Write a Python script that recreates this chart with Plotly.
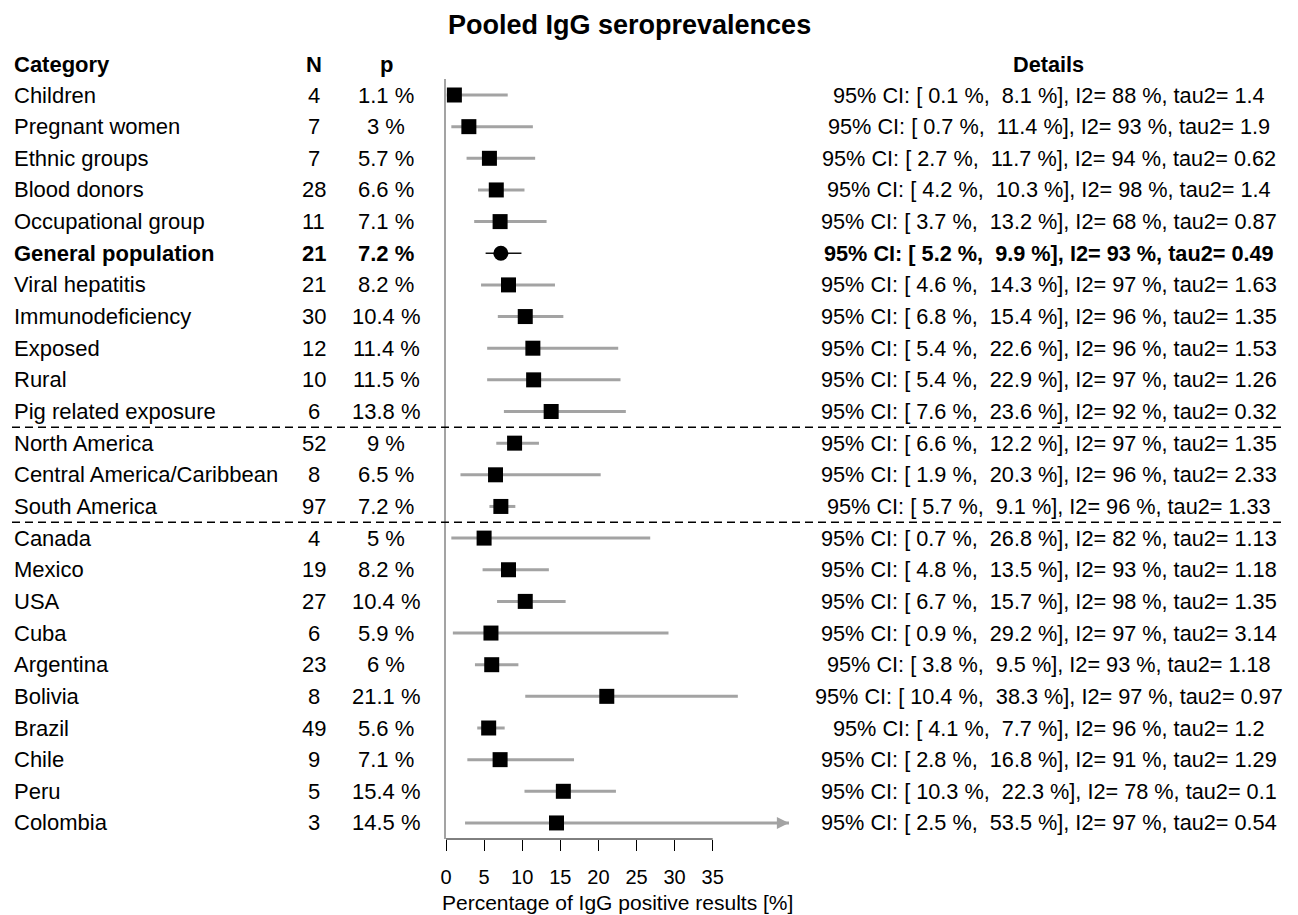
import plotly.graph_objects as go

# ---------------- data ----------------
categories = ["Children", "Pregnant women", "Ethnic groups", "Blood donors", "Occupational group",
              "General population", "Viral hepatitis", "Immunodeficiency", "Exposed", "Rural",
              "Pig related exposure", "North America", "Central America/Caribbean", "South America",
              "Canada", "Mexico", "USA", "Cuba", "Argentina", "Bolivia", "Brazil", "Chile", "Peru", "Colombia"]
n_studies = [4, 7, 7, 28, 11, 21, 21, 30, 12, 10, 6, 52, 8, 97, 4, 19, 27, 6, 23, 8, 49, 9, 5, 3]
pooled_p = [1.1, 3, 5.7, 6.6, 7.1, 7.2, 8.2, 10.4, 11.4, 11.5, 13.8, 9, 6.5, 7.2,
            5, 8.2, 10.4, 5.9, 6, 21.1, 5.6, 7.1, 15.4, 14.5]
ci_low = [0.1, 0.7, 2.7, 4.2, 3.7, 5.2, 4.6, 6.8, 5.4, 5.4, 7.6, 6.6, 1.9, 5.7,
          0.7, 4.8, 6.7, 0.9, 3.8, 10.4, 4.1, 2.8, 10.3, 2.5]
ci_high = [8.1, 11.4, 11.7, 10.3, 13.2, 9.9, 14.3, 15.4, 22.6, 22.9, 23.6, 12.2, 20.3, 9.1,
           26.8, 13.5, 15.7, 29.2, 9.5, 38.3, 7.7, 16.8, 22.3, 53.5]
i2 = [88, 93, 94, 98, 68, 93, 97, 96, 96, 97, 92, 97, 96, 96, 82, 93, 98, 97, 93, 97, 96, 91, 78, 97]
tau2 = [1.4, 1.9, 0.62, 1.4, 0.87, 0.49, 1.63, 1.35, 1.53, 1.26, 0.32, 1.35, 2.33, 1.33,
        1.13, 1.18, 1.35, 3.14, 1.18, 0.97, 1.2, 1.29, 0.1, 0.54]
group_sizes = [11, 3, 10]
highlight = "General population"
tick_values = [0, 5, 10, 15, 20, 25, 30, 35]
x_max = 45
headers = ["Category", "N", "p", "Details"]
axis_title = "Percentage of IgG positive results [%]"
chart_title = "Pooled IgG seroprevalences"

# ---------------- layout constants ----------------
OFF = 8                      # page body margin compensation
W, H = 1298 - OFF, 915 - OFF
FONT = "Liberation Sans, Arial, sans-serif"
FS = 22
FS_DET = 21.7
GRAY = "#a3a3a3"


def X(px):                   # page pixel -> figure pixel
    return px - OFF


px_x0 = X(446)               # pixel of x=0
px_per_unit = 7.62
plot_top, plot_bottom = X(79), X(839)
row0_px, row_step = X(95), 31.65
plot_h = plot_bottom - plot_top

rows = list(range(len(categories)))
y_top = -(row0_px - plot_top) / row_step
y_bot = (plot_bottom - row0_px) / row_step


def fx(px):                  # page pixel x -> paper fraction
    return X(px) / W


def fy(py):                  # page pixel y -> paper fraction (relative to plot area)
    return (plot_bottom - X(py)) / plot_h


fig = go.Figure()

# CI lines
xs, ys, xh, yh = [], [], [], []
for i, c in enumerate(categories):
    if c == highlight:
        xh += [ci_low[i], ci_high[i], None]
        yh += [i, i, None]
    else:
        xs += [ci_low[i], ci_high[i], None]
        ys += [i, i, None]
fig.add_trace(go.Scatter(x=xs, y=ys, mode="lines", line=dict(color=GRAY, width=3),
                         hoverinfo="skip", showlegend=False))
fig.add_trace(go.Scatter(x=xh, y=yh, mode="lines", line=dict(color="#111111", width=1.5),
                         hoverinfo="skip", showlegend=False))

# point estimates
sq_x = [pooled_p[i] for i, c in enumerate(categories) if c != highlight]
sq_y = [i for i, c in enumerate(categories) if c != highlight]
hi_x = [pooled_p[i] for i, c in enumerate(categories) if c == highlight]
hi_y = [i for i, c in enumerate(categories) if c == highlight]
fig.add_trace(go.Scatter(x=sq_x, y=sq_y, mode="markers",
                         marker=dict(symbol="square", size=15, color="black", line=dict(width=0)),
                         showlegend=False))
fig.add_trace(go.Scatter(x=hi_x, y=hi_y, mode="markers",
                         marker=dict(symbol="circle", size=15, color="black", line=dict(width=0)),
                         showlegend=False))

annotations = []
# arrows for truncated CIs
for i in rows:
    if ci_high[i] > x_max:
        annotations.append(dict(x=x_max, y=i, xref="x", yref="y", ax=x_max - 2, ay=i,
                                axref="x", ayref="y", text="", showarrow=True,
                                arrowhead=2, arrowsize=1.2, arrowwidth=2, arrowcolor=GRAY))

col_x = [(fx(12), "left"), (fx(313.5), "center"), (fx(386), "center"), (fx(1048.5), "center")]

# header row (paper coords so that it is not hidden outside the y range)
hdr_py = 95 - 0.96 * row_step
for (x, anc), h in zip(col_x, headers):
    annotations.append(dict(x=x, y=fy(hdr_py), xref="paper", yref="paper", xanchor=anc,
                            yanchor="middle", text=f"<b>{h}</b>", showarrow=False,
                            font=dict(family=FONT, size=FS_DET if h == "Details" else FS,
                                      color="black")))

NB = "\u00a0"
for i, c in enumerate(categories):
    det = (f"95% CI: [{NB}{ci_low[i]:g}{NB}%,{NB}{NB}{ci_high[i]:g}{NB}%], "
           f"I2={NB}{i2[i]}{NB}%, tau2={NB}{tau2[i]:g}")
    texts = [c, str(n_studies[i]), f"{pooled_p[i]:g}{NB}%", det]
    for k, ((x, anc), t) in enumerate(zip(col_x, texts)):
        if c == highlight:
            t = f"<b>{t}</b>"
        annotations.append(dict(x=x, y=i, xref="paper", yref="y", xanchor=anc, yanchor="middle",
                                text=t, showarrow=False,
                                font=dict(family=FONT, size=FS_DET if k == 3 else FS,
                                          color="black")))

# chart title, top-anchored at the figure top so it is not cut
annotations.append(dict(x=fx(629), y=fy(OFF), xref="paper", yref="paper", xanchor="center",
                        yanchor="top", text=f"<b>{chart_title}</b>", showarrow=False,
                        font=dict(family=FONT, size=27, color="black")))
# axis title, centred on the x-axis domain, bottom-anchored at the figure bottom
dom = [fx(446), (px_x0 + x_max * px_per_unit) / W]
annotations.append(dict(x=(dom[0] + dom[1]) / 2, y=fy(915), xref="paper", yref="paper",
                        xanchor="center", yanchor="bottom", text=axis_title, showarrow=False,
                        borderpad=0,
                        font=dict(family=FONT, size=21, color="black")))

# separators
shapes = []
acc = 0
for g in group_sizes[:-1]:
    acc += g
    shapes.append(dict(type="line", xref="paper", yref="y", x0=fx(12), x1=fx(1286),
                       y0=acc - 0.5, y1=acc - 0.5,
                       line=dict(color="black", width=1.5, dash="8px,5px")))
# x axis line over the tick span
shapes.append(dict(type="line", xref="x", yref="paper", x0=tick_values[0], x1=tick_values[-1],
                   y0=0, y1=0, line=dict(color="black", width=1)))

fig.update_layout(
    width=W, height=H,
    margin=dict(l=0, r=0, t=plot_top, b=H - plot_bottom),
    plot_bgcolor="white", paper_bgcolor="white",
    annotations=annotations, shapes=shapes,
    showlegend=False,
    font=dict(family=FONT, size=20, color="black"),
)
fig.update_xaxes(
    domain=dom,
    range=[0, x_max], tickvals=tick_values, ticktext=[str(v) for v in tick_values],
    ticks="outside", ticklen=11, tickwidth=1, tickcolor="black",
    showline=False, showgrid=False, zeroline=False,
    tickfont=dict(family=FONT, size=20, color="black"),
    ticklabelstandoff=9,
    automargin=False,
)
fig.update_yaxes(
    range=[y_bot, y_top], showticklabels=False, ticks="", showgrid=False, zeroline=False,
    showline=True, linecolor=GRAY, linewidth=1.5, automargin=False,
)

fig.write_html("out.html")
